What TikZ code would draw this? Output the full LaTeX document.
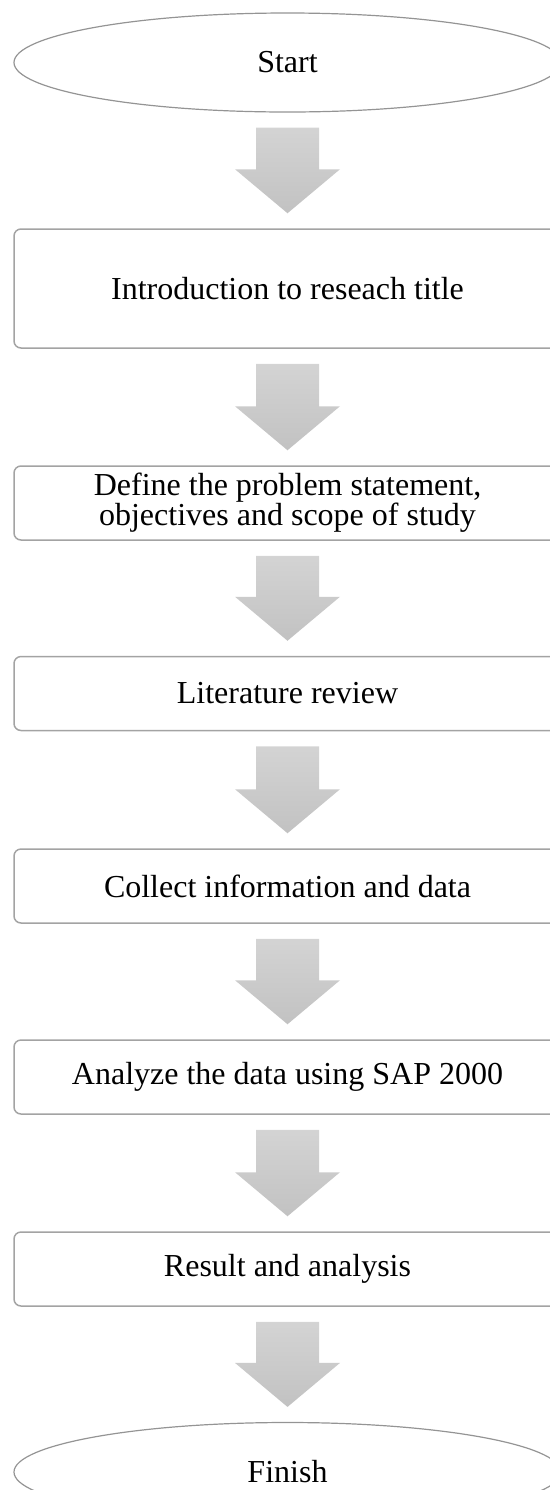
\documentclass[tikz,border=0pt]{standalone}
\usepackage{fontspec}
\setmainfont{Liberation Serif}
\usetikzlibrary{shapes.geometric,calc}

\newcommand{\flowarrow}[2]{%
	\path[blockarrow] ($(#1.south)+(-31.5,15)$) -- ($(#1.south)+(31.5,15)$)
		-- ($(#2.north)+(31.5,-59)$) -- ($(#2.north)+(52.5,-59)$)
		-- ($(#2.north)+(0,-15)$) -- ($(#2.north)+(-52.5,-59)$)
		-- ($(#2.north)+(-31.5,-59)$) -- cycle;}

\begin{document}
\begin{tikzpicture}[x=0.5pt,y=-0.5pt,
		terminal/.style={ellipse,draw=black!42,line width=0.6pt,minimum width=273.5pt,minimum height=49.5pt,inner sep=0pt,font=\fontsize{16}{15}\selectfont},
		stepbox/.style={rectangle,rounded corners=3.5pt,draw=black!36,line width=0.75pt,minimum width=273.5pt,minimum height=37pt,inner sep=0pt,align=center,font=\fontsize{16}{15}\selectfont},
		blockarrow/.style={top color=black!17,bottom color=black!24,draw=none}]
				\useasboundingbox (0,0) rectangle (550,1490);
				\node[terminal] (start) at (287.5,62.5) {Start};
				\node[stepbox,minimum height=59.5pt] (intro) at (287.5,288.5) {Introduction to reseach title};
				\node[stepbox] (problem) at (287.5,503) {Define the problem statement,\\objectives and scope of study};
				\node[stepbox] (review) at (287.5,693.5) {Literature review};
				\node[stepbox] (collect) at (287.5,886) {Collect information and data};
				\node[stepbox] (analyze) at (287.5,1077) {Analyze the data using SAP 2000};
				\node[stepbox] (result) at (287.5,1269) {Result and analysis};
				\node[terminal] (finish) at (287.5,1472) {Finish};
				\flowarrow{start}{intro}
				\flowarrow{intro}{problem}
				\flowarrow{problem}{review}
				\flowarrow{review}{collect}
				\flowarrow{collect}{analyze}
				\flowarrow{analyze}{result}
				\flowarrow{result}{finish}
			\end{tikzpicture}
\end{document}
